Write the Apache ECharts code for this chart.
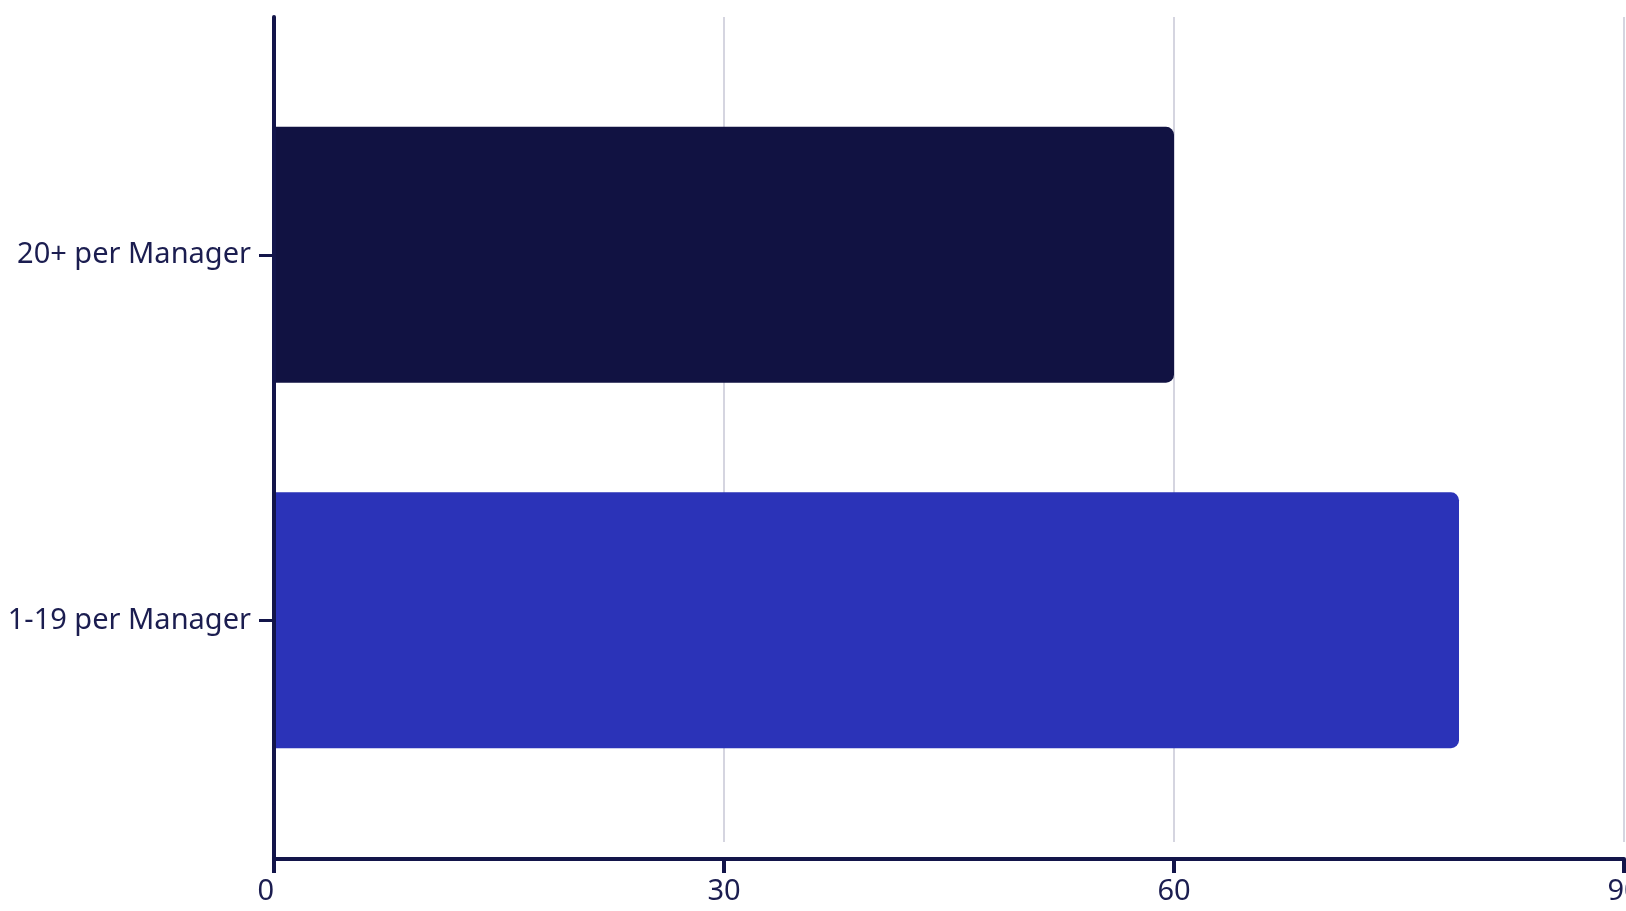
<!DOCTYPE html>
<html>
<head>
<meta charset="utf-8">
<script src="https://cdn.jsdelivr.net/npm/echarts@6/dist/echarts.min.js"></script>
<style>
html,body{margin:0;padding:0;background:#fff;}
#chart{width:1626px;height:911px;}
</style>
</head>
<body>
<div id="chart"></div>
<script>
// Data
const categories = ['1-19 per Manager', '20+ per Manager'];
const values = [79, 60];
const xTicks = [0, 30, 60, 90];

const barColors = ['#2b33b8', '#111242'];
const axisColor = '#13154a';
const textColor = '#1b1d50';
const gridColor = '#d5d5e0';
const font = 'Noto Sans';

const chart = echarts.init(document.getElementById('chart'), null, {renderer: 'canvas'});
const xMin = xTicks[0], xMax = xTicks[xTicks.length - 1], xInt = xTicks[1] - xTicks[0];

chart.setOption({
  animation: false,
  backgroundColor: '#ffffff',
  grid: [
    {left: 274, right: 2, top: 17, bottom: 69, containLabel: false, outerBoundsMode: 'none'},
    {left: 274, right: 2, top: 17, bottom: 52, containLabel: false, outerBoundsMode: 'none'},
    {left: 274, right: 2, top: 72, bottom: 108, containLabel: false, outerBoundsMode: 'none'}
  ],
  xAxis: [
    {gridIndex: 0, type: 'value', min: xMin, max: xMax, interval: xInt,
     axisLine: {show: false}, axisTick: {show: false}, axisLabel: {show: false},
     splitLine: {show: true, lineStyle: {color: gridColor, width: 2}}},
    {gridIndex: 1, type: 'value', min: xMin, max: xMax, interval: xInt, z: 10,
     axisLine: {show: true, lineStyle: {color: axisColor, width: 4}},
     axisTick: {show: true, length: 14, lineStyle: {color: axisColor, width: 4}},
     axisLabel: {show: true, margin: 18, color: textColor, fontFamily: font, fontSize: 29,
                 alignMinLabel: 'right', hideOverlap: false},
     splitLine: {show: false}},
    {gridIndex: 2, type: 'value', min: xMin, max: xMax, show: false}
  ],
  yAxis: [
    {gridIndex: 0, type: 'value', min: 0, max: 1, show: false},
    {gridIndex: 1, type: 'value', min: 0, max: 1, z: 10,
     axisLine: {show: true, lineStyle: {color: axisColor, width: 4}},
     axisTick: {show: false}, axisLabel: {show: false}, splitLine: {show: false}},
    {gridIndex: 2, type: 'category', data: categories, z: 10,
     axisLine: {show: true, lineStyle: {color: axisColor, width: 4}},
     axisTick: {show: true, alignWithLabel: true, length: 15, lineStyle: {color: axisColor, width: 3}},
     axisLabel: {show: true, margin: 23, color: textColor, fontFamily: font, fontSize: 29,
                 padding: [4, 0, 0, 0]},
     splitLine: {show: false}}
  ],
  series: [
    {type: 'bar', xAxisIndex: 2, yAxisIndex: 2, barWidth: '70%',
     data: values.map((v, i) => ({value: v, itemStyle: {color: barColors[i], borderRadius: [0, 8, 8, 0]}}))}
  ]
});
</script>
</body>
</html>
